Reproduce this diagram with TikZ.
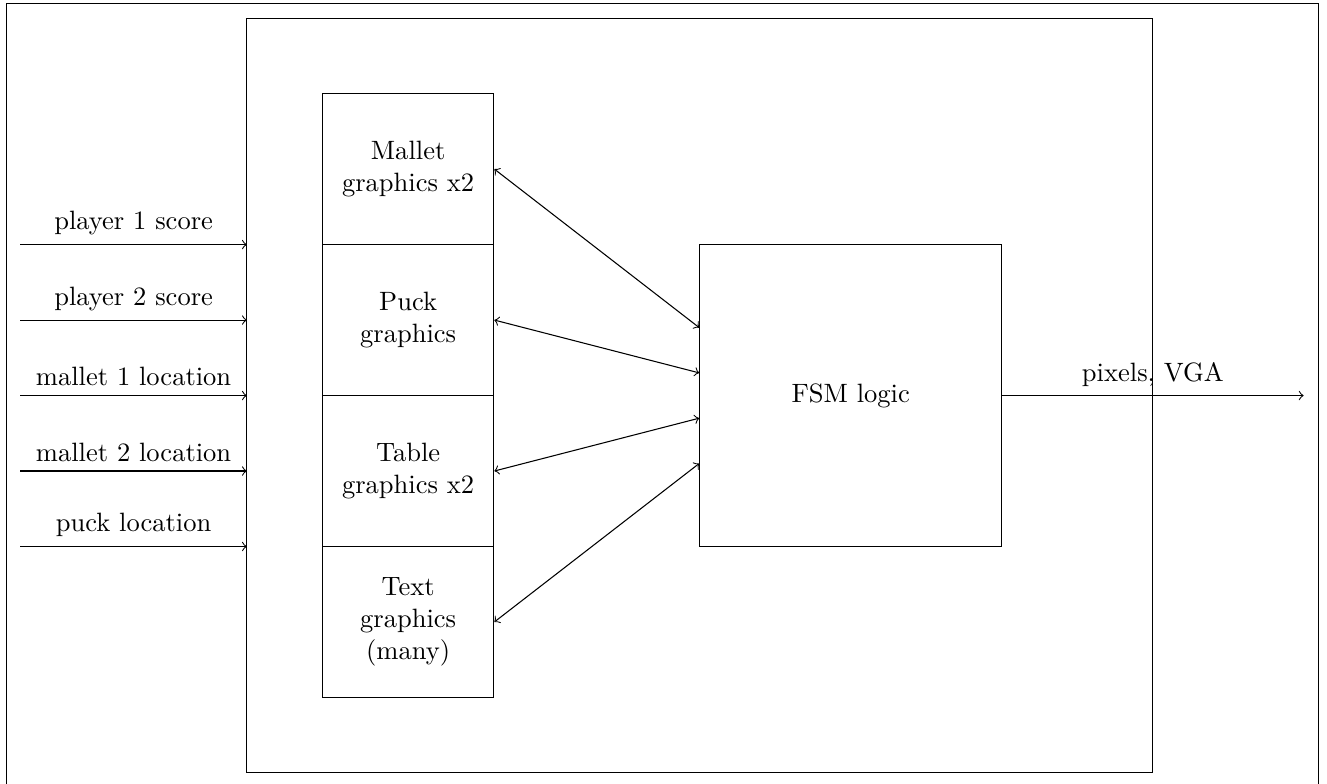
\documentclass[tikz,border=0pt]{standalone}
\usetikzlibrary{positioning}
\begin{document}
\begin{tikzpicture}[
  blk/.style={draw, minimum width=2.27cm, minimum height=2cm, align=center, inner sep=2pt},
  fsm/.style={draw, minimum width=4cm, minimum height=4cm},
  sig/.style={->},
  link/.style={<->}
]
\useasboundingbox (-3.27,-0.146) rectangle (14.31,10.24);
% outer frame
\draw (-3.18,-0.3) rectangle (14.2,10.19);
% main box
\node[draw, minimum width=12cm, minimum height=10cm, inner sep=0pt] (main) at (6,5) {};
% column of graphics blocks
\node[blk] (mallet) at (2.137,8) {Mallet\\graphics x2};
\node[blk] (puck)   at (2.137,6) {Puck\\graphics};
\node[blk] (table)  at (2.137,4) {Table\\graphics x2};
\node[blk] (text)   at (2.137,2) {Text\\graphics\\(many)};
% FSM
\node[fsm] (fsm) at (8,5) {FSM logic};
% inputs
\coordinate (i1) at (-3,7); \coordinate (j1) at (0,7);
\coordinate (i2) at (-3,6); \coordinate (j2) at (0,6);
\coordinate (i3) at (-3,5); \coordinate (j3) at (0,5);
\coordinate (i4) at (-3,4); \coordinate (j4) at (0,4);
\coordinate (i5) at (-3,3); \coordinate (j5) at (0,3);
\draw[sig] (i1) -- node[above] {player 1 score} (j1);
\draw[sig] (i2) -- node[above] {player 2 score} (j2);
\draw[sig] (i3) -- node[above] {mallet 1 location} (j3);
\draw[sig] (i4) -- node[above] {mallet 2 location} (j4);
\draw[sig] (i5) -- node[above] {puck location} (j5);
% links
\draw[link] (mallet.east) -- (fsm.west |- 0,5.9);
\draw[link] (puck.east)   -- (fsm.west |- 0,5.3);
\draw[link] (table.east)  -- (fsm.west |- 0,4.7);
\draw[link] (text.east)   -- (fsm.west |- 0,4.1);
% output
\coordinate (out) at (14,5);
\draw[sig] (fsm.east) -- node[above] {pixels, VGA} (out);
\end{tikzpicture}
\end{document}
